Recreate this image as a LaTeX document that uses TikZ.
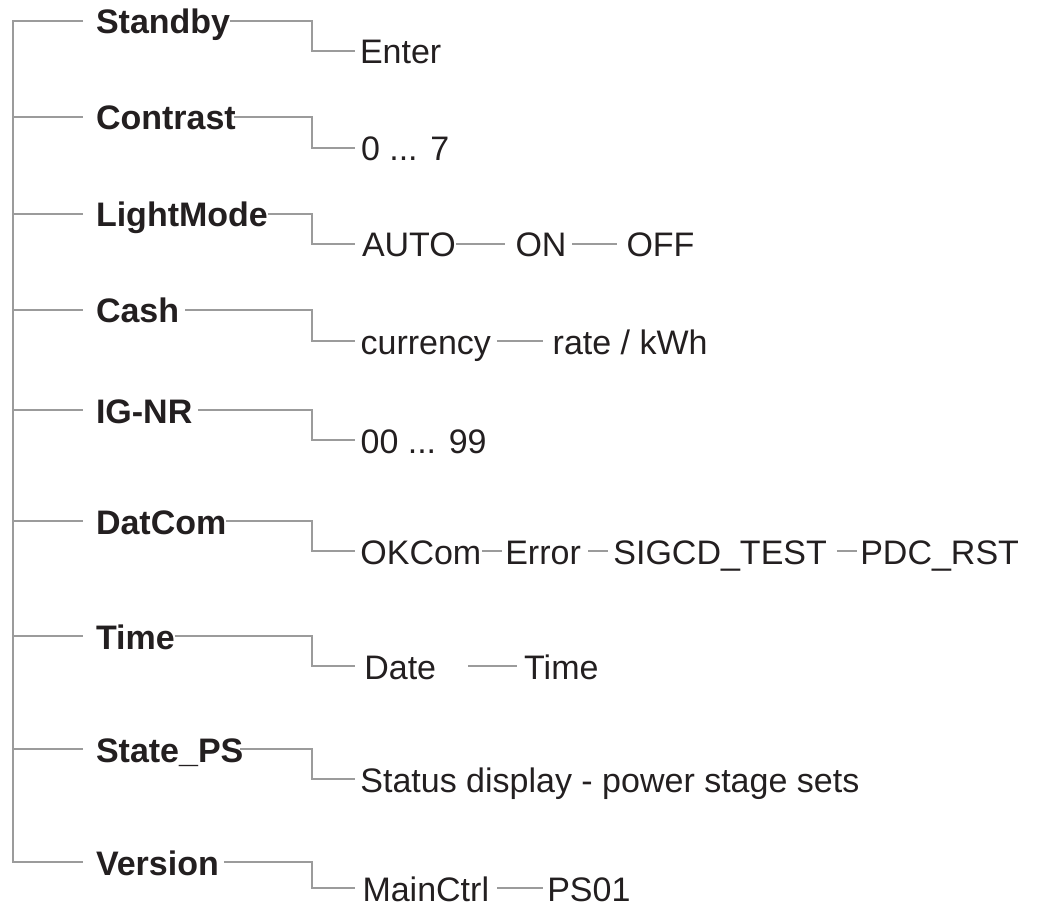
\documentclass[tikz,border=0pt]{standalone}
\usepackage{fontspec}
\setmainfont{Liberation Sans}
\definecolor{ln}{RGB}{155,155,155}
\definecolor{tx}{RGB}{35,31,32}
\begin{document}
\begin{tikzpicture}[x=1pt,y=-1pt,
  every node/.style={inner sep=0pt, outer sep=0pt, text height=26pt, text depth=0pt,
    anchor=west, text=tx, font=\fontsize{34}{40}\selectfont},
  menu/.style={font=\fontsize{34}{40}\selectfont\bfseries},
  wire/.style={draw=ln, line width=2.5pt}]
\useasboundingbox (0,0) rectangle (1041,909);
\coordinate (T) at (13,0);
\coordinate (J) at (312,0);
\coordinate (E) at (355,0);

% menu entries
\node[menu] (standby)  at (96,21)  {Standby};
\node[menu] (contrast) at (96,117) {Contrast};
\node[menu] (lightmode) at (96,214) {LightMode};
\node[menu] (cash)     at (96,310) {Cash};
\node[menu] (ignr)     at (96,410) {IG-NR};
\node[menu] (datcom)   at (96,521) {DatCom};
\node[menu] (time)     at (96,636) {Time};
\node[menu] (stateps)  at (96,749) {State\_PS};
\node[menu] (version)  at (96,862) {Version};

% sub entries
\node (enter)    at (360,51)    {Enter};
\node (contr)    at (361,148)   {0 ... 7};
\node (auto)     at (362,244)   {AUTO};
\node (on)       at (515.5,244) {ON};
\node (off)      at (626.5,244) {OFF};
\node (currency) at (360.6,341) {currency};
\node (rate)     at (552.7,341) {rate / kWh};
\node (ignrv)    at (360.6,440) {00 ... 99};
\node (okcom)    at (360.4,551) {OKCom};
\node (error)    at (505.3,551) {Error};
\node (sigcd)    at (613.4,551) {SIGCD\_TEST};
\node (pdc)      at (860.3,551) {PDC\_RST};
\node (date)     at (364.3,666) {Date};
\node (timev)    at (524.2,666) {Time};
\node (status)   at (360.4,779) {Status display - power stage sets};
\node (mainctrl) at (362.5,888) {MainCtrl};
\node (ps01)     at (547.3,888) {PS01};

% trunk and stubs
\draw[wire] ([xshift=-13pt]standby.west) -- (standby.west -| T) -- (version.west -| T) -- ([xshift=-13pt]version.west);
\foreach \n in {contrast,lightmode,cash,ignr,datcom,time,stateps}
  \draw[wire] (\n.west -| T) -- ([xshift=-13pt]\n.west);

% menu to sub connectors
\draw[wire] (standby.east) -- (standby.east -| J) |- (enter.west -| E);
\draw[wire] ([xshift=-2pt]contrast.east) -- (contrast.east -| J) |- (contr.west -| E);
\draw[wire] (lightmode.east) -- (lightmode.east -| J) |- (auto.west -| E);
\draw[wire] ([xshift=6pt]cash.east) -- (cash.east -| J) |- (currency.west -| E);
\draw[wire] ([xshift=6pt]ignr.east) -- (ignr.east -| J) |- (ignrv.west -| E);
\draw[wire] (datcom.east) -- (datcom.east -| J) |- (okcom.west -| E);
\draw[wire] (time.east) -- (time.east -| J) |- (date.west -| E);
\draw[wire] ([xshift=-3pt]stateps.east) -- (stateps.east -| J) |- (status.west -| E);
\draw[wire] ([xshift=5pt]version.east) -- (version.east -| J) |- (mainctrl.west -| E);

% chains
\draw[wire] ([xshift=0.5pt]auto.east) -- ([xshift=-10.5pt]on.west);
\draw[wire] ([xshift=5.5pt]on.east) -- ([xshift=-9.5pt]off.west);
\draw[wire] ([xshift=6pt]currency.east) -- ([xshift=-9.7pt]rate.west);
\draw[wire] ([xshift=0.7pt]okcom.east) -- ([xshift=-3.3pt]error.west);
\draw[wire] ([xshift=7.2pt]error.east) -- ([xshift=-5.4pt]sigcd.west);
\draw[wire] ([xshift=10pt]sigcd.east) -- ([xshift=-3.3pt]pdc.west);
\draw[wire] ([xshift=32pt]date.east) -- ([xshift=-7.2pt]timev.west);
\draw[wire] ([xshift=8pt]mainctrl.east) -- ([xshift=-4.3pt]ps01.west);
\end{tikzpicture}
\end{document}
